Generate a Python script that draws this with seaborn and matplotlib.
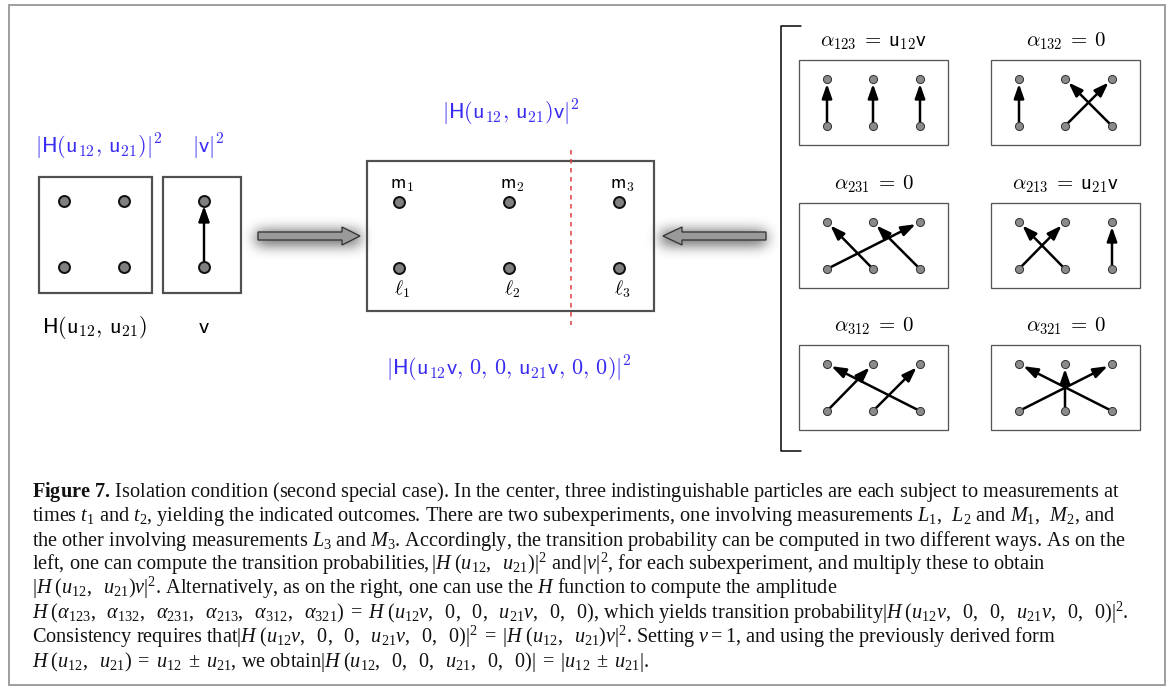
import numpy as np
import pandas as pd
import seaborn as sns
import matplotlib.pyplot as plt
from matplotlib.patches import Rectangle, Polygon, FancyArrowPatch

# permutations drawn on the right and the amplitude written above each
perms = ["123", "132", "231", "213", "312", "321"]
amps = ["u_{12}v", "0", "0", "u_{21}v", "0", "0"]

# outcome labels in the centre box
top_labels = ["m_1", "m_2", "m_3"]
bottom_labels = [r"\ell_1", r"\ell_2", r"\ell_3"]

caption = [
    r"$\mathbf{Figure\ 7.\,}$Isolation condition (second special case). In the center, three indistinguishable particles are each subject to measurements at",
    r"times $t_1$ and $t_2$, yielding the indicated outcomes. There are two subexperiments, one involving measurements $L_1,\ \,L_2$ and $M_1,\ \,M_2$, and",
    r"the other involving measurements $L_3$ and $M_3$. Accordingly, the transition probability can be computed in two different ways. As on the",
    r"left, one can compute the transition probabilities,$\,|H\;(u_{12},\ \;u_{21})|^2$ and$\,|v|^2$, for each subexperiment, and multiply these to obtain",
    r"$|H\;(u_{12},\ \;u_{21})v|^2$. Alternatively, as on the right, one can use the $H$ function to compute the amplitude",
    r"$H\;(\alpha_{123},\ \;\alpha_{132},\ \;\alpha_{231},\ \;\alpha_{213},\ \;\alpha_{312},\ \;\alpha_{321})\;=\;H\;(u_{12}v,\ \;0,\ \;0,\ \;u_{21}v,\ \;0,\ \;0)$, which yields transition probability$|H\;(u_{12}v,\ \;0,\ \;0,\ \;u_{21}v,\ \;0,\ \;0)|^2$.",
    r"Consistency requires that$|H\;(u_{12}v,\ \;0,\ \;0,\ \;u_{21}v,\ \;0,\ \;0)|^2\;=\;|H\;(u_{12},\ \;u_{21})v|^2$. Setting $v = 1$, and using the previously derived form",
    r"$H\;(u_{12},\ \;u_{21})\;=\;u_{12}\;\pm\;u_{21}$, we obtain$|H\;(u_{12},\ \;0,\ \;0,\ \;u_{21},\ \;0,\ \;0)|\;=\;|u_{12}\;\pm\;u_{21}|$.",
]

sns.set_theme(style="white")
plt.rcParams["font.family"] = ["Liberation Serif", "DejaVu Serif"]
plt.rcParams["mathtext.fontset"] = "custom"
plt.rcParams["mathtext.rm"] = "Liberation Serif"
plt.rcParams["mathtext.it"] = "Liberation Serif:italic"
plt.rcParams["mathtext.bf"] = "Liberation Serif:bold"

P = 0.72  # points per pixel at dpi 100
BLUE = "#3a2cf2"

fig = plt.figure(figsize=(11.71, 6.88), dpi=100)
ax = fig.add_axes([0, 0, 1, 1])


def label(x, y, s, size, color="black"):
    ax.text(x, y, s, fontsize=size, color=color, ha="center", va="baseline",
            math_fontfamily="cm")


def arrow(a, b, lw, scale):
    ax.add_patch(FancyArrowPatch(a, b, arrowstyle="-|>,head_length=0.85,head_width=0.3",
                                 mutation_scale=scale, lw=lw, color="black",
                                 shrinkA=0, shrinkB=3.5, zorder=3))


def glow(x0, x1, y0, y1, sigma=7, strength=0.75):
    m = int(3 * sigma)
    w, h = int(x1 - x0) + 2 * m, int(y1 - y0) + 2 * m
    mask = np.zeros((h, w))
    mask[m:h - m, m:w - m] = 1.0
    k = np.exp(-0.5 * (np.arange(-m, m + 1) / sigma) ** 2)
    k /= k.sum()
    blur = np.apply_along_axis(lambda r: np.convolve(r, k, mode="same"), 1, mask)
    blur = np.apply_along_axis(lambda c: np.convolve(c, k, mode="same"), 0, blur)
    rgba = np.zeros((h, w, 4))
    rgba[..., 3] = blur * strength
    ax.imshow(rgba, extent=(x0 - m, x1 + m, y1 + m, y0 - m), zorder=1,
              interpolation="bilinear", aspect="auto")


def big_arrow(tail, base, tip, yc):
    glow(min(tail, tip) - 2, max(tail, tip), yc - 4, yc + 8)
    pts = [(tail, yc - 4), (base, yc - 4), (base, yc - 9), (tip, yc),
           (base, yc + 9), (base, yc + 4), (tail, yc + 4)]
    ax.add_patch(Polygon(pts, closed=True, fc="#9a9a9a", ec="#333333", lw=1.3 * P, zorder=2))


big_nodes = []
small_nodes = []

# left: H(u12, u21) and v
ax.add_patch(Rectangle((39, 177), 113, 116, fill=False, ec="#505050", lw=2.2 * P))
ax.add_patch(Rectangle((163, 177), 78, 116, fill=False, ec="#505050", lw=2.2 * P))
for x in [64, 124]:
    for y in [201, 267]:
        big_nodes.append((x, y))
big_nodes += [(204, 201), (204, 267)]
arrow((204, 267), (204, 201), 2.4 * P, 11)

label(99, 153, r"$|\mathsf{H(u_{12},\,u_{21})}|^{\mathsf{2}}$", 16, BLUE)
label(208, 153, r"$|\mathsf{v}|^{\mathsf{2}}$", 16, BLUE)
label(95, 333, r"$\mathsf{H(u_{12},\,u_{21})}$", 16)
label(204, 333, r"$\mathsf{v}$", 16)

big_arrow(258, 342, 360, 236)
big_arrow(766, 682, 663, 236)

# centre box
ax.add_patch(Rectangle((367, 161), 287, 150, fill=False, ec="#505050", lw=2.2 * P))
ax.plot([571, 571], [150, 325], color="#e03a3a", lw=1.5 * P, ls=(0, (3, 3)), zorder=3)
for j, x in enumerate([399, 509, 619]):
    big_nodes += [(x, 202), (x, 268)]
    label(x + 3, 189, rf"$\mathsf{{{top_labels[j]}}}$", 14)
    label(x + 3, 295, rf"${bottom_labels[j]}$", 14)
label(511, 119, r"$|\mathsf{H(u_{12},\,u_{21})v}|^{\mathsf{2}}$", 16, BLUE)
label(509, 376, r"$|\mathsf{H(u_{12}v,\,0,\,0,\,u_{21}v,\,0,\,0)}|^{\mathsf{2}}$", 16, BLUE)

# bracket
ax.plot([801, 781, 781, 801], [26, 26, 451, 451], color="black", lw=1.5 * P)

# right: the six permutation panels
col_x = [799, 991]
row_y = [60, 203, 345]
box_w, box_h = 149, 85
dx = [28, 74, 121]
for k, (p, a) in enumerate(zip(perms, amps)):
    x0 = col_x[k % 2]
    y0 = row_y[k // 2]
    ax.add_patch(Rectangle((x0, y0), box_w, box_h, fill=False, ec="#555555", lw=1.3 * P))
    label(x0 + box_w / 2, y0 - 14, rf"$\alpha_{{\mathsf{{{p}}}}}\:=\:\mathsf{{{a}}}$", 15)
    top = [(x0 + d, y0 + 19) for d in dx]
    bot = [(x0 + d, y0 + 66) for d in dx]
    small_nodes += top + bot
    for j, c in enumerate(p):
        arrow(bot[int(c) - 1], top[j], 2.5 * P, 10)

big = pd.DataFrame(big_nodes, columns=["x", "y"])
small = pd.DataFrame(small_nodes, columns=["x", "y"])
sns.scatterplot(data=big, x="x", y="y", s=62, color="#808080", edgecolor="#111111",
                linewidth=2.0 * P, zorder=4, ax=ax, legend=False)
sns.scatterplot(data=small, x="x", y="y", s=34, color="#8a8a8a", edgecolor="#333333",
                linewidth=1.0 * P, zorder=4, ax=ax, legend=False)

# caption
for i, line in enumerate(caption):
    ax.text(32, 497 + i * 24.3, line, fontsize=14.6, ha="left", va="baseline", color="#111111")

# outer frame
ax.add_patch(Rectangle((9, 5), 1156, 680, fill=False, ec="#a0a0a0", lw=2 * P))

ax.set_xlim(0, 1171)
ax.set_ylim(688, 0)
ax.axis("off")
fig.savefig("out.png", dpi=100)
